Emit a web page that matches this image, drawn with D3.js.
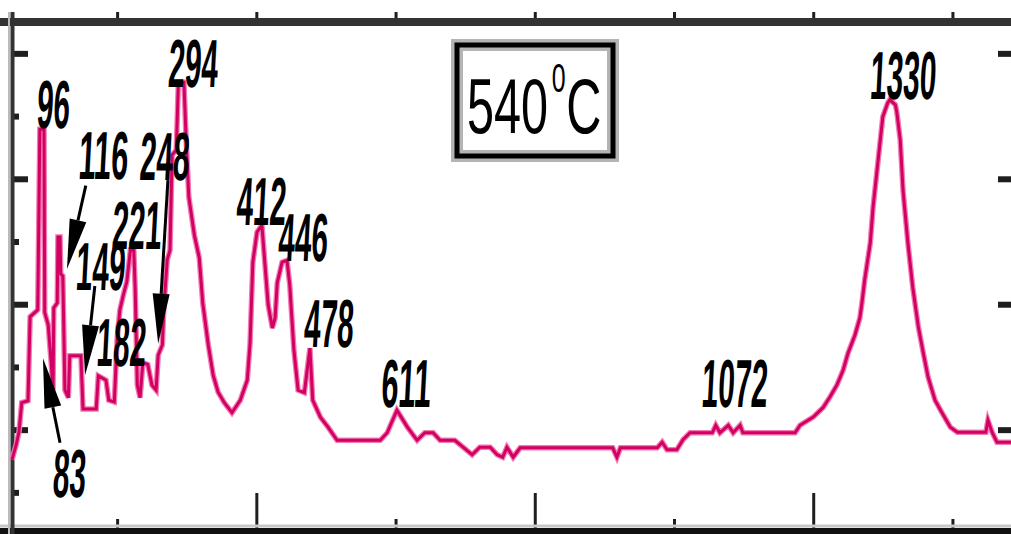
<!DOCTYPE html>
<html>
<head>
<meta charset="utf-8">
<script src="https://cdn.jsdelivr.net/npm/d3@7.9.0/dist/d3.min.js"></script>
<style>
  html, body { margin: 0; padding: 0; background: #fff; }
  svg { display: block; }
  .peak { font-family: "Liberation Sans Narrow", "Arial Narrow", "Liberation Sans", sans-serif; font-weight: bold; font-size: 68px; fill: #000; }
  .tag { font-family: "Liberation Sans Narrow", "Arial Narrow", "Liberation Sans", sans-serif; fill: #000; }
</style>
</head>
<body>
<svg id="chart" width="1011" height="534"></svg>
<script>
// spectrum (Raman shift, cm-1 / intensity, a.u.)
const wavenumber = [49, 55, 59, 63, 72, 75, 86, 89, 95, 96, 101, 105, 108, 109, 114, 115, 118, 119, 122, 125,
  130, 132, 148, 151, 170, 173, 184, 188, 196, 200, 204, 209, 214, 219, 224, 226, 229, 233, 237, 244,
  250, 256, 259, 265, 267, 272, 276, 279, 285, 288, 296, 299, 303, 311, 318, 323, 331, 338, 345, 354,
  365, 377, 387, 391, 395, 401, 408, 413, 417, 423, 427, 430, 437, 444, 448, 454, 460, 469, 477, 481,
  492, 503, 516, 578, 588, 602, 617, 631, 642, 654, 664, 685, 697, 710, 721, 736, 746, 754, 760, 769,
  779, 912, 918, 923, 976, 983, 990, 1004, 1013, 1023, 1055, 1060, 1066, 1078, 1085, 1095, 1099, 1174, 1181, 1200,
  1214, 1224, 1234, 1243, 1250, 1260, 1267, 1270, 1274, 1282, 1286, 1293, 1300, 1307, 1310, 1318, 1320, 1325, 1329, 1336,
  1343, 1351, 1358, 1365, 1375, 1385, 1397, 1407, 1448, 1451, 1457, 1464, 1487];
const intensity = [0.52, 0.76, 0.96, 1.43, 1.46, 2.80, 2.91, 5.79, 5.79, 2.87, 2.67, 2.11, 1.63, 2.94, 3.02, 4.07, 4.07, 3.48, 3.45, 1.63,
  1.51, 2.18, 2.18, 1.33, 1.33, 1.86, 1.79, 1.47, 1.44, 2.44, 2.91, 3.15, 3.36, 3.86, 3.86, 3.23, 1.71, 1.51, 2.07, 2.04,
  1.71, 1.63, 2.19, 2.35, 2.91, 3.71, 3.86, 5.38, 5.46, 6.54, 6.54, 5.67, 4.71, 4.10, 3.74, 3.02, 2.35, 1.87, 1.60, 1.43,
  1.27, 1.47, 1.79, 2.38, 3.67, 4.15, 4.26, 3.55, 2.99, 2.62, 2.78, 3.34, 3.67, 3.70, 3.31, 2.27, 1.63, 1.59, 2.30, 1.47,
  1.20, 1.04, 0.83, 0.83, 0.95, 1.31, 1.04, 0.83, 0.95, 0.95, 0.83, 0.83, 0.72, 0.60, 0.72, 0.72, 0.60, 0.56, 0.72, 0.56,
  0.71, 0.71, 0.56, 0.71, 0.71, 0.80, 0.68, 0.68, 0.84, 0.95, 0.95, 1.07, 0.95, 1.07, 0.95, 1.07, 0.95, 0.95, 1.07, 1.20,
  1.35, 1.52, 1.71, 1.95, 2.22, 2.51, 2.78, 3.02, 3.39, 3.98, 4.55, 5.27, 5.99, 6.21, 6.26, 6.18, 6.07, 5.62, 4.82, 3.98,
  3.27, 2.64, 2.23, 1.84, 1.47, 1.27, 1.04, 0.96, 0.96, 1.15, 0.96, 0.80, 0.80];

const xTicks = [200, 400, 600, 800, 1000, 1200, 1400];
const xMajor = [400, 800, 1200];
const xMinor = [200, 600, 1000, 1400];
const yMajor = [1, 3, 5, 7];
const yMinor = [0, 2, 4, 6];

// peak labels: text, centre (cm-1), baseline (a.u.)
const peakLabels = ['96', '116', '149', '182', '221', '248', '294', '83', '412', '446', '478', '611', '1072', '1330'];
const labelWn = [107, 179, 175, 205, 227, 267, 308, 130, 406, 466, 503, 614, 1086, 1328];
const labelLevel = [5.81, 5.00, 3.23, 2.02, 3.88, 4.98, 6.46, -0.07, 4.26, 3.69, 2.32, 1.36, 1.36, 6.27];

// arrows: tail -> tip
const arrowTailWn = [155, 168, 273, 118];
const arrowTailLevel = [4.89, 3.29, 4.98, 0.79];
const arrowTipWn = [128, 154, 259, 93.5];
const arrowTipLevel = [3.56, 1.87, 2.37, 2.14];

const svg = d3.select('#chart');
const x = d3.scaleLinear().domain([49, 1487]).range([12, 1013]);
const y = d3.scaleLinear().domain([-0.6, 7.5]).range([530, 22]);

// ticks
function tickAxis(axis, tx, ty, width) {
  svg.append('g')
    .attr('transform', `translate(${tx},${ty})`)
    .call(axis)
    .call(g => g.select('.domain').remove())
    .call(g => g.selectAll('.tick line').attr('stroke', '#1e1e1e').attr('stroke-width', width));
}
tickAxis(d3.axisBottom(x).tickValues(xMajor).tickSize(-37).tickFormat(''), 0, 530, 3);
tickAxis(d3.axisBottom(x).tickValues(xMinor).tickSize(-11).tickFormat(''), 0, 530, 3);
tickAxis(d3.axisTop(x).tickValues(xTicks).tickSize(10).tickFormat(''), 0, 22, 3);
tickAxis(d3.axisLeft(y).tickValues(yMajor).tickSize(-15).tickFormat(''), 13, 0, 6);
tickAxis(d3.axisLeft(y).tickValues(yMinor).tickSize(-6).tickFormat(''), 13, 0, 6);
tickAxis(d3.axisRight(y).tickValues(yMajor).tickSize(-15).tickFormat(''), 1013, 0, 6);

// frame
svg.append('line').attr('x1', 0).attr('x2', 1011).attr('y1', 22).attr('y2', 22)
  .attr('stroke', '#333').attr('stroke-width', 8);
svg.append('line').attr('x1', 0).attr('x2', 1011).attr('y1', 526).attr('y2', 526)
  .attr('stroke', '#c8c8c8').attr('stroke-width', 3);
svg.append('line').attr('x1', 0).attr('x2', 1011).attr('y1', 531).attr('y2', 531)
  .attr('stroke', '#111').attr('stroke-width', 6);
svg.append('line').attr('x1', 9).attr('x2', 9).attr('y1', 12).attr('y2', 534)
  .attr('stroke', '#bbb').attr('stroke-width', 2);
svg.append('line').attr('x1', 12.5).attr('x2', 12.5).attr('y1', 12).attr('y2', 534)
  .attr('stroke', '#333').attr('stroke-width', 4);

// spectrum
const pts = d3.zip(wavenumber, intensity);
const line = d3.line().x(d => x(d[0])).y(d => y(d[1]));
svg.append('path').datum(pts).attr('d', line)
  .attr('fill', 'none').attr('stroke', '#f27bb0').attr('stroke-width', 5.5).attr('stroke-linejoin', 'miter');
svg.append('path').datum(pts).attr('d', line)
  .attr('fill', 'none').attr('stroke', '#d10062').attr('stroke-width', 3).attr('stroke-linejoin', 'miter');

// arrows
arrowTailWn.forEach((_, i) => {
  const tx = x(arrowTailWn[i]), ty = y(arrowTailLevel[i]);
  const px = x(arrowTipWn[i]), py = y(arrowTipLevel[i]);
  const len = Math.hypot(px - tx, py - ty);
  const ux = (px - tx) / len, uy = (py - ty) / len;
  const head = 50, half = 8.5;
  const bx = px - ux * head, by = py - uy * head;
  svg.append('line').attr('x1', tx).attr('y1', ty).attr('x2', bx).attr('y2', by)
    .attr('stroke', '#000').attr('stroke-width', 3);
  svg.append('polygon')
    .attr('points', [[px, py], [bx - uy * half, by + ux * half], [bx + uy * half, by - ux * half]].map(p => p.join(',')).join(' '))
    .attr('fill', '#000');
});

// peak labels, squeezed to the narrow look of the original
peakLabels.forEach((t, i) => {
  const txt = svg.append('text').attr('class', 'peak')
    .attr('text-anchor', 'middle')
    .text(t);
  const sx = (16.5 * t.length) / txt.node().getComputedTextLength();
  txt.attr('transform', `translate(${x(labelWn[i])},${y(labelLevel[i])}) skewX(-3) scale(${sx},1)`);
});

// temperature box
const box = svg.append('g');
box.append('rect').attr('x', 457).attr('y', 45).attr('width', 156).attr('height', 111)
  .attr('fill', '#fff').attr('stroke', '#b4b4b4').attr('stroke-width', 12);
box.append('rect').attr('x', 457).attr('y', 45).attr('width', 156).attr('height', 111)
  .attr('fill', 'none').attr('stroke', '#000').attr('stroke-width', 5);
const tag = box.append('text').attr('class', 'tag').attr('font-size', 78);
tag.append('tspan').text('540');
tag.append('tspan').attr('dx', 6).attr('dy', -41).attr('font-size', 40).text('0');
tag.append('tspan').attr('dx', 1).attr('dy', 41).text('C');
const tagScale = 130 / tag.node().getComputedTextLength();
tag.attr('transform', `translate(467,133) scale(${tagScale},1)`);
</script>
</body>
</html>
